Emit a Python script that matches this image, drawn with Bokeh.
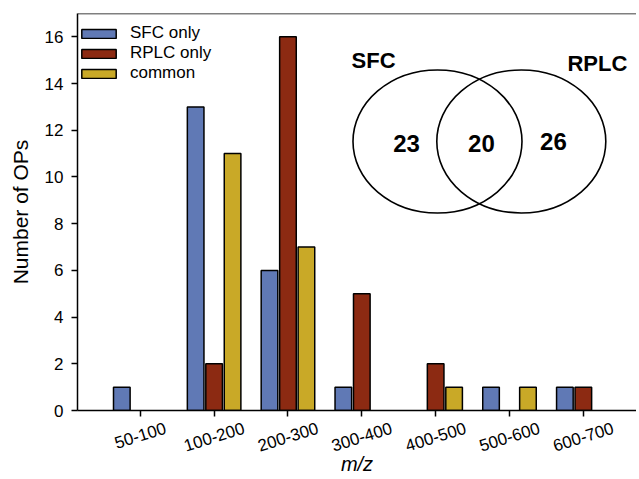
import math
from bokeh.plotting import figure
from bokeh.models import ColumnDataSource, FixedTicker, Span
from bokeh.embed import file_html
from bokeh.resources import INLINE
from bokeh.core.properties import value

# ---- data ----
categories = ["50-100", "100-200", "200-300", "300-400", "400-500", "500-600", "600-700"]
sfc_only = [1, 13, 6, 1, 0, 1, 1]
rplc_only = [0, 2, 16, 5, 2, 0, 1]
common = [0, 11, 7, 0, 1, 1, 0]
series_names = ["SFC only", "RPLC only", "common"]
series_colors = ["#6079B5", "#8C2A12", "#C9A927"]
venn_sets = ["SFC", "RPLC"]
venn_counts = [23, 20, 26]  # SFC only, common, RPLC only
y_ticks = [0, 2, 4, 6, 8, 10, 12, 14, 16]

FONT = "Liberation Sans"
W, H = 636, 479
BL, BT, BB = 77, 13, 69
X0, X1 = 0.15, 7.72
TICK_FS = 17
ANGLE = 0.3

p = figure(width=W, height=H, x_range=(X0, X1), y_range=(0, 17),
           output_backend="svg", toolbar_location=None,
           min_border_left=BL, min_border_right=0, min_border_top=BT, min_border_bottom=BB)
p.outline_line_color = None
p.xgrid.visible = False
p.ygrid.visible = False

offsets = [-0.25, 0.0, 0.25]
for vals, name, color, off in zip([sfc_only, rplc_only, common], series_names, series_colors, offsets):
    xs = [i + 1 + off for i, v in enumerate(vals) if v > 0]
    tops = [v for v in vals if v > 0]
    src = ColumnDataSource(dict(x=xs, top=tops))
    p.vbar(x="x", top="top", width=0.225, source=src, fill_color=color,
           line_color="black", line_width=1.5, legend_label=name)

# top frame line
p.add_layout(Span(location=17, dimension="width", line_color="black", line_width=1.5))

def style_axis(ax):
    ax.axis_line_color = "black"
    ax.axis_line_width = 1.5
    ax.major_tick_line_color = "black"
    ax.major_tick_line_width = 1.5
    ax.major_tick_out = 6
    ax.major_tick_in = 0
    ax.minor_tick_line_color = None
    ax.major_label_text_font = FONT
    ax.major_label_text_font_size = f"{TICK_FS}px"
    ax.major_label_text_color = "black"
    ax.axis_label_text_font = FONT
    ax.axis_label_text_font_size = "20px"
    ax.axis_label_text_font_style = "normal"
    ax.axis_label_text_color = "black"

# x axis: tick marks (drawn as minor ticks) at category centres,
# rotated labels (at invisible major ticks) centred under each tick
cat_pos = list(range(1, len(categories) + 1))
px_per_unit = (W - BL) / (X1 - X0)
def char_w(c):
    return 0.333 if c == "-" else 0.556
shifted = []
for pos, c in zip(cat_pos, categories):
    wpx = sum(char_w(ch) for ch in c) * TICK_FS
    shifted.append(round(pos + 0.5 * wpx * math.cos(ANGLE) / px_per_unit, 4))

xa = p.xaxis[0]
style_axis(xa)
xa.ticker = FixedTicker(ticks=shifted, minor_ticks=cat_pos)
xa.major_label_overrides = {s: c for s, c in zip(shifted, categories)}
xa.major_tick_line_color = None
xa.minor_tick_line_color = "black"
xa.minor_tick_line_width = 1.5
xa.minor_tick_out = 6
xa.minor_tick_in = 0
xa.major_label_orientation = ANGLE
xa.major_label_standoff = 11
xa.axis_label = "m/z"
xa.axis_label_text_font_style = "italic"
xa.axis_label_standoff = -7

ya = p.yaxis[0]
style_axis(ya)
ya.ticker = FixedTicker(ticks=y_ticks)
ya.major_label_standoff = 8
ya.axis_label = "Number of OPs"
ya.axis_label_standoff = 10
ya.axis_label_text_font_size = "21px"

# legend
lg = p.legend[0]
lg.location = (0, 327)
lg.border_line_color = None
lg.background_fill_alpha = 0
lg.margin = 0
lg.padding = 8
lg.spacing = -1
lg.glyph_width = 43
lg.glyph_height = 11
lg.label_height = 20
lg.label_standoff = 10
lg.label_text_font = FONT
lg.label_text_font_size = f"{TICK_FS}px"
lg.label_text_color = "black"

# Venn diagram inset
venn_x = [5.025, 6.16]
venn_y = [11.52, 11.52]
p.ellipse(x=venn_x, y=venn_y, width=169, height=143, width_units="screen", height_units="screen",
          fill_color=None, line_color="black", line_width=1.6)
p.text(x=[4.16, 7.19], y=[14.99, 14.86], text=venn_sets, text_align="center", text_baseline="middle",
       text_font=value(FONT), text_font_size="22px", text_font_style="bold", text_color="black")
p.text(x=[4.605, 5.62, 6.595], y=[11.43, 11.43, 11.5], text=[str(c) for c in venn_counts],
       text_align="center", text_baseline="middle",
       text_font=value(FONT), text_font_size="24px", text_font_style="bold", text_color="black")

open("out.html", "w").write(file_html(p, INLINE))
